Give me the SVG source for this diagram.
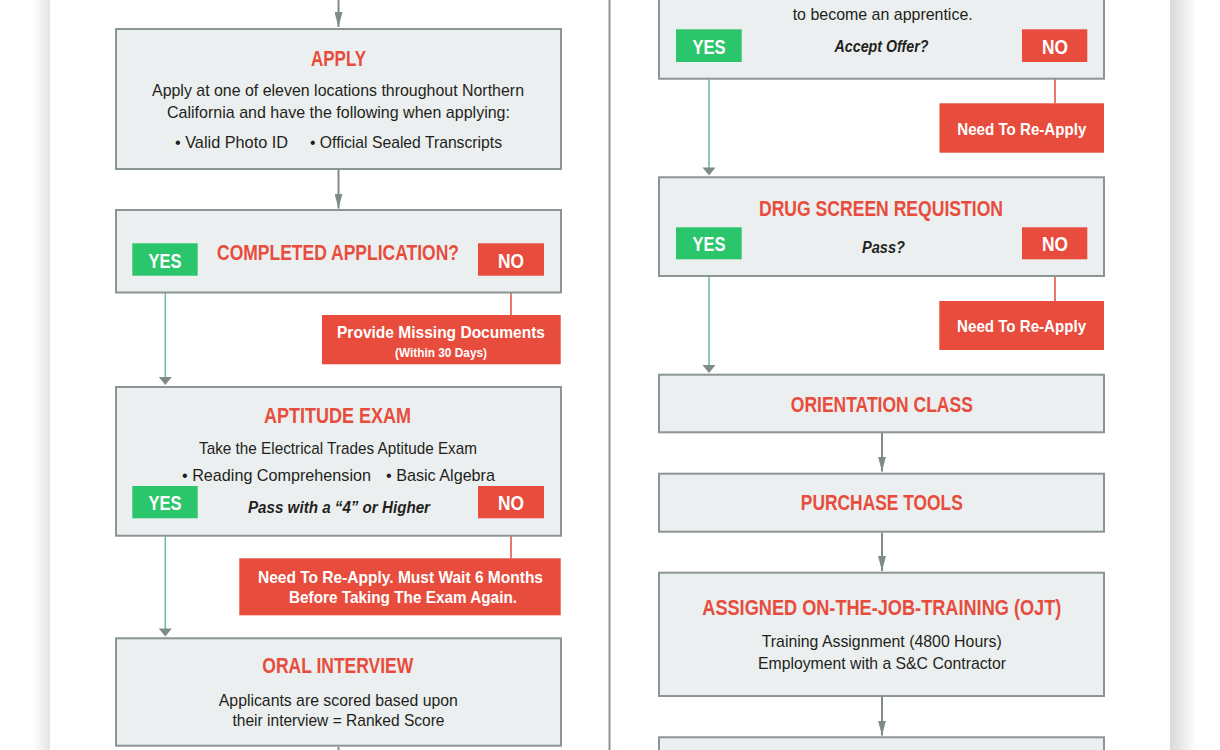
<svg xmlns="http://www.w3.org/2000/svg" width="1220" height="750" viewBox="0 0 1220 750">
<style>
.box{fill:#ecefef;stroke:#8c9595;stroke-width:2}
.t{font-family:"Liberation Sans",Arial,sans-serif;text-anchor:middle}
.title{font-weight:bold;font-size:22px;fill:#e74c3c}
.body{font-size:17px;fill:#231f20}
.q{font-weight:bold;font-style:italic;font-size:16px;fill:#231f20}
.yes{fill:#2bc56c}
.no{fill:#e74c3c}
.btn{font-weight:bold;font-size:21px;fill:#fff}
.rt{font-weight:bold;font-size:16.5px;fill:#fff}
.rs{font-weight:bold;font-size:12px;fill:#fff}
.gc{stroke:#7f8a8a;stroke-width:2;fill:none}
.gl{stroke:#72c194;stroke-width:1.6;fill:none}
.rl{stroke:#e5574a;stroke-width:1.6;fill:none}
</style>
<defs>
<linearGradient id="shL" x1="0" y1="0" x2="1" y2="0"><stop offset="0" stop-color="#ffffff"/><stop offset="1" stop-color="#e4e4e4"/></linearGradient>
<linearGradient id="shR" x1="0" y1="0" x2="1" y2="0"><stop offset="0" stop-color="#d9d9d9"/><stop offset="1" stop-color="#ffffff"/></linearGradient>
<marker id="ah" markerUnits="userSpaceOnUse" markerWidth="15" markerHeight="8" refX="15" refY="4" orient="auto"><path d="M0,0 L15,4 L0,8 z" fill="#7f8a8a"/></marker>
</defs>
<rect x="0" y="0" width="1220" height="750" fill="#fff"/>
<rect x="32" y="0" width="18" height="750" fill="url(#shL)"/>
<rect x="1170" y="0" width="27" height="750" fill="url(#shR)"/>
<rect x="50" y="0" width="1120" height="750" fill="#fff"/>
<line x1="609.5" y1="0" x2="609.5" y2="750" stroke="#8e9595" stroke-width="2"/>

<g id="connectors">
<line class="gc" x1="338.5" y1="0" x2="338.5" y2="27" marker-end="url(#ah)"/>
<line class="gc" x1="338.5" y1="170" x2="338.5" y2="208.5" marker-end="url(#ah)"/>
<line class="gc" x1="338.5" y1="747" x2="338.5" y2="750"/>
<line class="gc" x1="882" y1="433" x2="882" y2="471.5" marker-end="url(#ah)"/>
<line class="gc" x1="882" y1="532.7" x2="882" y2="571" marker-end="url(#ah)"/>
<line class="gc" x1="882" y1="697" x2="882" y2="735.5" marker-end="url(#ah)"/>
<line class="gl" x1="165.3" y1="276" x2="165.3" y2="378"/>
<path d="M158.8,377 L171.8,377 L165.3,385 z" fill="#7f8a8a"/>
<line class="gl" x1="165.3" y1="519" x2="165.3" y2="629"/>
<path d="M158.8,628.5 L171.8,628.5 L165.3,636.5 z" fill="#7f8a8a"/>
<line class="gl" x1="709" y1="62.5" x2="709" y2="168"/>
<path d="M702.5,167.5 L715.5,167.5 L709,175.5 z" fill="#7f8a8a"/>
<line class="gl" x1="709" y1="260" x2="709" y2="366"/>
<path d="M702.5,365 L715.5,365 L709,373 z" fill="#7f8a8a"/>
<line class="rl" x1="511" y1="276" x2="511" y2="315"/>
<line class="rl" x1="511" y1="519" x2="511" y2="558.3"/>
<line class="rl" x1="1055" y1="62.5" x2="1055" y2="103.3"/>
<line class="rl" x1="1055" y1="260" x2="1055" y2="301"/>
</g>

<g id="apply">
<rect class="box" x="116" y="29" width="445" height="140"/>
<text class="t title" x="338.5" y="65.5" textLength="55" lengthAdjust="spacingAndGlyphs">APPLY</text>
<text class="t body" x="338" y="96" textLength="372" lengthAdjust="spacingAndGlyphs">Apply at one of eleven locations throughout Northern</text>
<text class="t body" x="338.5" y="118" textLength="343" lengthAdjust="spacingAndGlyphs">California and have the following when applying:</text>
<text class="t body" x="231.5" y="147.5" textLength="113" lengthAdjust="spacingAndGlyphs">•  Valid Photo ID</text>
<text class="t body" x="406" y="147.5" textLength="192" lengthAdjust="spacingAndGlyphs">• Official Sealed Transcripts</text>
</g>

<g id="completed">
<rect class="box" x="116" y="210" width="445" height="82.5"/>
<text class="t title" transform="translate(338,259.5) scale(0.75,1)" x="0" y="0" textLength="322.7" lengthAdjust="spacingAndGlyphs">COMPLETED APPLICATION?</text>
<rect class="yes" x="132.3" y="243.3" width="65.4" height="32.4"/>
<text class="t btn" x="165" y="267.5" textLength="33" lengthAdjust="spacingAndGlyphs">YES</text>
<rect class="no" x="478" y="243.3" width="66" height="32.4"/>
<text class="t btn" x="511" y="267.5" textLength="26" lengthAdjust="spacingAndGlyphs">NO</text>
</g>

<g id="missing-docs">
<rect class="no" x="322" y="315" width="238.7" height="49.3"/>
<text class="t rt" x="441" y="337.5" textLength="208" lengthAdjust="spacingAndGlyphs">Provide Missing Documents</text>
<text class="t rs" x="441" y="356.5" textLength="92" lengthAdjust="spacingAndGlyphs">(Within 30 Days)</text>
</g>

<g id="aptitude">
<rect class="box" x="116" y="387" width="445" height="148.7"/>
<text class="t title" x="337.5" y="423.3" textLength="147" lengthAdjust="spacingAndGlyphs">APTITUDE EXAM</text>
<text class="t body" x="338" y="454" textLength="278" lengthAdjust="spacingAndGlyphs">Take the Electrical Trades Aptitude Exam</text>
<text class="t body" x="276.5" y="480.7" textLength="189" lengthAdjust="spacingAndGlyphs">•  Reading Comprehension</text>
<text class="t body" x="440.5" y="480.7" textLength="109" lengthAdjust="spacingAndGlyphs">•  Basic Algebra</text>
<text class="t q" x="339" y="513.3" textLength="182" lengthAdjust="spacingAndGlyphs">Pass with a “4” or Higher</text>
<rect class="yes" x="132.3" y="486" width="65.4" height="32.3"/>
<text class="t btn" x="165" y="510.2" textLength="33" lengthAdjust="spacingAndGlyphs">YES</text>
<rect class="no" x="478" y="486" width="66" height="32.3"/>
<text class="t btn" x="511" y="510.2" textLength="26" lengthAdjust="spacingAndGlyphs">NO</text>
</g>

<g id="wait-six-months">
<rect class="no" x="239.3" y="558.3" width="321.4" height="57"/>
<text class="t rt" x="400.5" y="583.3" textLength="285" lengthAdjust="spacingAndGlyphs">Need To Re-Apply. Must Wait 6 Months</text>
<text class="t rt" x="403" y="602.7" textLength="228" lengthAdjust="spacingAndGlyphs">Before Taking The Exam Again.</text>
</g>

<g id="oral-interview">
<rect class="box" x="116" y="638.3" width="445" height="107.4"/>
<text class="t title" x="337.8" y="673.3" textLength="151" lengthAdjust="spacingAndGlyphs">ORAL INTERVIEW</text>
<text class="t body" x="338.3" y="706" textLength="239" lengthAdjust="spacingAndGlyphs">Applicants are scored based upon</text>
<text class="t body" x="338.5" y="726" textLength="212" lengthAdjust="spacingAndGlyphs">their interview = Ranked Score</text>
</g>

<g id="accept-offer">
<rect class="box" x="659" y="-10" width="445" height="88.7"/>
<text class="t body" x="882.7" y="20" textLength="180" lengthAdjust="spacingAndGlyphs">to become an apprentice.</text>
<text class="t q" x="881.5" y="51.7" textLength="94" lengthAdjust="spacingAndGlyphs">Accept Offer?</text>
<rect class="yes" x="676" y="29.3" width="65.7" height="32.7"/>
<text class="t btn" x="709" y="53.5" textLength="33" lengthAdjust="spacingAndGlyphs">YES</text>
<rect class="no" x="1022" y="29.3" width="65.3" height="32.7"/>
<text class="t btn" x="1055" y="53.5" textLength="26" lengthAdjust="spacingAndGlyphs">NO</text>
</g>

<g id="reapply-1">
<rect class="no" x="939.5" y="103.3" width="164.5" height="49.4"/>
<text class="t rt" x="1021.8" y="134.5" textLength="129" lengthAdjust="spacingAndGlyphs">Need To Re-Apply</text>
</g>

<g id="drug-screen">
<rect class="box" x="659" y="177.3" width="445" height="98.7"/>
<text class="t title" x="881" y="215.7" textLength="244" lengthAdjust="spacingAndGlyphs">DRUG SCREEN REQUISTION</text>
<text class="t q" x="883.5" y="253" textLength="43" lengthAdjust="spacingAndGlyphs">Pass?</text>
<rect class="yes" x="676" y="227.3" width="65.7" height="32"/>
<text class="t btn" x="709" y="251.3" textLength="33" lengthAdjust="spacingAndGlyphs">YES</text>
<rect class="no" x="1022" y="227.3" width="65.3" height="32"/>
<text class="t btn" x="1055" y="251.3" textLength="26" lengthAdjust="spacingAndGlyphs">NO</text>
</g>

<g id="reapply-2">
<rect class="no" x="939.3" y="301" width="164.7" height="49"/>
<text class="t rt" x="1021.6" y="331.7" textLength="129" lengthAdjust="spacingAndGlyphs">Need To Re-Apply</text>
</g>

<g id="orientation">
<rect class="box" x="659" y="374.7" width="445" height="57.6"/>
<text class="t title" x="881.8" y="411.7" textLength="182" lengthAdjust="spacingAndGlyphs">ORIENTATION CLASS</text>
</g>

<g id="purchase-tools">
<rect class="box" x="659" y="473.7" width="445" height="58"/>
<text class="t title" x="881.8" y="510" textLength="162" lengthAdjust="spacingAndGlyphs">PURCHASE TOOLS</text>
</g>

<g id="ojt">
<rect class="box" x="659" y="572.7" width="445" height="123.3"/>
<text class="t title" x="881.8" y="615" textLength="359" lengthAdjust="spacingAndGlyphs">ASSIGNED ON-THE-JOB-TRAINING (OJT)</text>
<text class="t body" x="881.7" y="647.3" textLength="240" lengthAdjust="spacingAndGlyphs">Training Assignment (4800 Hours)</text>
<text class="t body" x="882" y="668.7" textLength="248" lengthAdjust="spacingAndGlyphs">Employment with a S&amp;C Contractor</text>
</g>

<g id="next-step">
<rect class="box" x="659" y="737.3" width="445" height="30"/>
</g>
</svg>
